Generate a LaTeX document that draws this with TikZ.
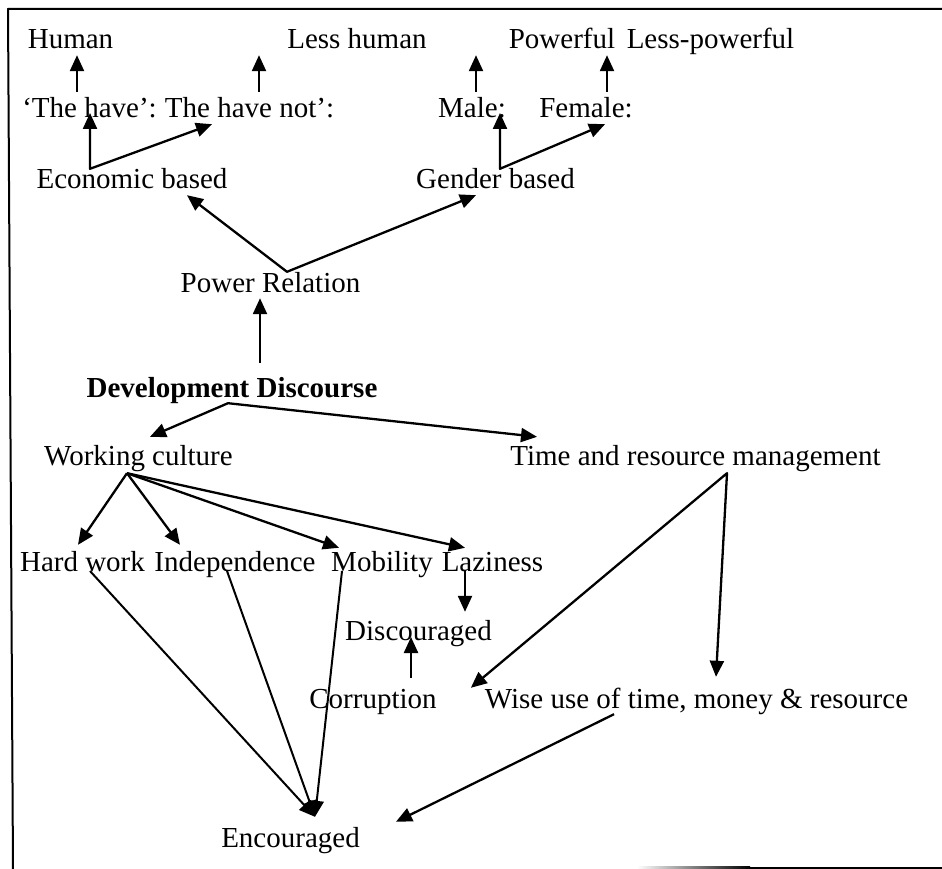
\documentclass[tikz,border=0pt]{standalone}
\usepackage{fontspec}
\setmainfont{Liberation Serif}
\usetikzlibrary{arrows.meta}
\begin{document}
\begin{tikzpicture}[x=1pt,y=-1pt,line join=round,>={Triangle[length=16pt,width=14pt]},
lbl/.style={inner sep=0pt,text height=20pt,text depth=6pt,anchor=base,font=\fontsize{29}{34}\selectfont},
arr/.style={line width=2.3pt},
lowarr/.style={line width=2pt}]
\useasboundingbox (0,0) rectangle (942,869);
\draw[line width=2pt] (942,9)--(8,9)--(13,869);
\shade[left color=white,right color=black] (637,866.5) rectangle (750,869);
\draw[line width=2.5pt] (750,867.75)--(942,867.75);
% nodes
\node[lbl] (human) at (70.5,49) {Human};
\node[lbl] (lesshuman) at (357,49) {Less human};
\node[lbl] (powerful) at (562,49) {Powerful};
\node[lbl] (lesspow) at (710.5,49) {Less-powerful};
\node[lbl] (thehave) at (89.5,118) {‘The have’:};
\node[lbl] (havenot) at (249.5,118) {The have not’:};
\node[lbl] (male) at (472,118) {Male:};
\node[lbl] (female) at (586,118) {Female:};
\node[lbl] (econ) at (132,189) {Economic based};
\node[lbl] (gender) at (495.5,189) {Gender based};
\node[lbl] (power) at (270.5,292) {Power Relation};
\node[lbl,font=\fontsize{29}{34}\selectfont\bfseries] (dev) at (232,397) {Development Discourse};
\node[lbl] (working) at (138.5,465) {Working culture};
\node[lbl] (time) at (695.5,465) {Time and resource management};
\node[lbl] (hard) at (82.5,571) {Hard work};
\node[lbl] (indep) at (235,571) {Independence};
\node[lbl] (mob) at (382,571) {Mobility};
\node[lbl] (lazy) at (492.5,571) {Laziness};
\node[lbl] (disc) at (418.5,640) {Discouraged};
\node[lbl] (corr) at (373,708) {Corruption};
\node[lbl] (wise) at (696.5,708) {Wise use of time, money \& resource};
\node[lbl] (enc) at (290.5,847) {Encouraged};
% upper arrows
\draw[arr,->,shorten <=6pt] ([xshift=-12.5pt]thehave.north)--([xshift=6.5pt]human.south);
\draw[arr,->,shorten <=6pt] ([xshift=9.5pt]havenot.north)--([xshift=-98pt]lesshuman.south);
\draw[arr,->,shorten <=6pt] ([xshift=4pt]male.north)--([xshift=-86pt]powerful.south);
\draw[arr,->,shorten <=6pt] ([xshift=21pt]female.north)--([xshift=-103.5pt]lesspow.south);
\draw[arr,<->] ([xshift=0.5pt,yshift=5pt]thehave.base)--([xshift=-42pt]econ.north)--([xshift=-37.5pt]havenot.south);
\draw[arr,<->] ([xshift=28pt,yshift=5pt]male.base)--([xshift=4.5pt]gender.north)--([xshift=19pt]female.south);
\draw[arr,<->] ([xshift=55pt]econ.south)--([xshift=16.5pt]power.north)--([xshift=-19.5pt]gender.south);
\draw[arr,->,shorten <=14pt] ([xshift=28pt]dev.north)--([xshift=-10.5pt]power.south);
% lower arrows
\draw[arr,<->] ([xshift=11.5pt,yshift=8pt]working.north)--([xshift=-4pt]dev.south)--([xshift=-158.5pt,yshift=8pt]time.north);
\coordinate (wfan) at ([xshift=-11.5pt,yshift=-2pt]working.south);
\foreach \t/\dx/\dy in {hard/-4.5/6,indep/-55/6,mob/-43/3,lazy/-27.5/3}
  \draw[arr,->] (wfan)--([xshift=\dx pt,yshift=\dy pt]\t.north);
\draw[arr,<->] ([xshift=34pt]corr.north east)--([xshift=31.5pt,yshift=-2pt]time.south)--([xshift=19.5pt,yshift=11pt]wise.north);
\draw[arr,->] ([xshift=-27.5pt]lazy.base)--([xshift=46.5pt,yshift=8pt]disc.north);
\draw[arr,->,shorten <=10pt] ([xshift=38pt]corr.north)--([xshift=-7.5pt,yshift=3pt]disc.base);
\foreach \s/\dx in {hard/7.5,indep/-8,mob/-40}
  \draw[lowarr,->] ([xshift=\dx pt]\s.base)--([xshift=24.5pt,yshift=10pt]enc.north);
\draw[arr,->] ([xshift=-82.5pt]wise.south)--([xshift=36pt,yshift=5pt]enc.north east);
\end{tikzpicture}
\end{document}
